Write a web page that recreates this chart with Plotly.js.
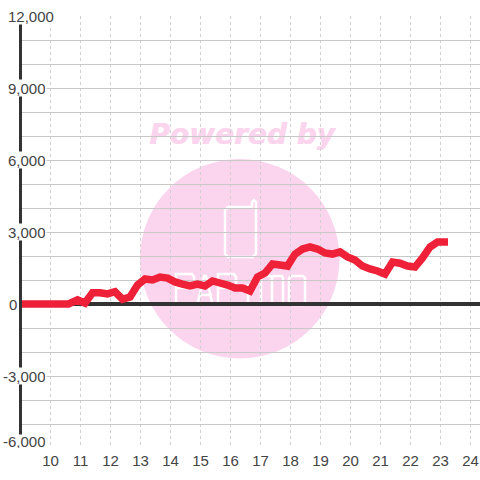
<!DOCTYPE html>
<html><head><meta charset="utf-8">
<script src="https://cdn.plot.ly/plotly-3.0.0.min.js"></script>
<style>html,body{margin:0;padding:0;background:#fff}#c{width:480px;height:480px}</style>
</head><body><div id="c"></div>
<script>
var hours = [8.9,9.15,9.4,9.65,9.9,10.15,10.4,10.6,10.9,11.15,11.4,11.65,11.9,12.15,12.4,12.65,12.9,13.15,13.4,13.65,13.9,14.15,14.4,14.65,14.9,15.15,15.4,15.65,15.9,16.15,16.4,16.65,16.9,17.15,17.4,17.65,17.9,18.15,18.4,18.65,18.9,19.15,19.4,19.65,19.9,20.15,20.4,20.65,20.9,21.15,21.4,21.65,21.9,22.15,22.4,22.65,22.9,23.25];
var diff = [0,0,0,0,0,0,0,0,170,40,470,470,420,510,200,290,790,1040,1000,1125,1080,920,830,750,830,750,960,875,790,670,670,540,1125,1290,1670,1625,1580,2080,2290,2375,2290,2125,2080,2170,1960,1830,1580,1460,1375,1250,1750,1700,1580,1540,1920,2375,2580,2580];
var xTicks = [10,11,12,13,14,15,16,17,18,19,20,21,22,23,24];
var yLabelValues = [12000,9000,6000,3000,0,-3000,-6000];
var yLabelTexts = ['12,000','9,000','6,000','3,000','0','-3,000','-6,000'];
var yLabelShiftX = [-15.5,-15.5,-15.5,-15.5,-14,-20,-20];
var yLabelShiftY = [0.5,0.5,0.5,0.5,0.5,0.5,6.5];
var yLabelHeights = [16,16,16,16,16,16,13];
var FONT = '"Liberation Sans", Arial, sans-serif';
var PINK = '#fbd5ee';

function px(x){ return 10 + (x - 50.5) / 30; }
function py(y){ return (304 - y) / 24 * 1000; }
function toPath(points, close){
  return points.map(function(p, i){ return (i ? 'L' : 'M') + px(p[0]) + ',' + py(p[1]); }).join(' ') + (close ? ' Z' : '');
}
function outline(points, close){
  return {type:'path', layer:'below', xref:'x', yref:'y', path:toPath(points, close), line:{color:'#fff', width:2.5}};
}
var shapes = [
  {type:'circle', layer:'below', xref:'x', yref:'y', x0:px(140), x1:px(339.5), y0:py(358.5), y1:py(159), fillcolor:PINK, line:{width:0}},
  {type:'rect', layer:'below', xref:'x', yref:'y', x0:px(142), x1:px(342), y0:py(148), y1:py(116), line:{width:0}, fillcolor:'rgba(0,0,0,0)',
   label:{text:'Powered by', textposition:'middle center', font:{family:'"DejaVu Sans"', size:28, color:PINK, weight:700, style:'italic', shadow:'0.6px 0 0 #fbd5ee'}}},
  outline([[228,207],[252,207],[252,202],[254,200],[256,202],[256,254],[253,257],[228,257],[225,254],[225,210]], true),
  outline([[176,306],[176,274],[192,274],[194,277],[194,285],[192,288],[176,288]], false),
  outline([[197,306],[204,276],[206,276],[213,306]], false),
  outline([[199,295],[212,295]], false),
  outline([[218,306],[218,274],[234,274],[236,277],[236,285],[234,288],[218,288]], false),
  outline([[248,306],[248,284]], false),
  outline([[261,306],[261,276],[271,276],[272,278],[272,306]], false),
  outline([[272,278],[273,276],[282,276],[283,278],[283,306]], false),
  outline([[289,278],[291,276],[303,276],[305,278],[305,303],[303,305],[291,305],[289,303]], true)
];
var annotations = yLabelValues.map(function(v, i){
  return {xref:'paper', yref:'y', x:0, y:v, text:yLabelTexts[i], showarrow:false, xanchor:'left', yanchor:'middle',
    xshift:yLabelShiftX[i], yshift:yLabelShiftY[i], height:yLabelHeights[i], valign:'middle', bgcolor:'#fff', borderpad:0, align:'left',
    font:{family:FONT, size:15, color:'#444'}};
});
Plotly.newPlot('c', [{
  type:'scatter', mode:'lines', x:hours, y:diff, cliponaxis:false,
  line:{color:'#ee2138', width:7.5, shape:'linear', simplify:false}, hoverinfo:'skip'
}], {
  width:480, height:480, showlegend:false,
  margin:{l:22, r:0, t:16, b:32, pad:0},
  paper_bgcolor:'#fff', plot_bgcolor:'#fff',
  xaxis:{range:[px(22), px(480)], tickmode:'array', tickvals:xTicks, ticktext:xTicks.map(String), ticklen:0, ticklabelstandoff:2,
    showgrid:true, gridcolor:'#d0d0d0', gridwidth:1, griddash:'3px,3px', zeroline:false, showline:false,
    tickfont:{family:FONT, size:15, color:'#444'}, fixedrange:true},
  yaxis:{range:[-6000,12000], dtick:1000, tick0:0, showticklabels:false, ticklen:0,
    showgrid:true, gridcolor:'#c8c8c8', gridwidth:1, zeroline:true, zerolinecolor:'#333', zerolinewidth:3.5,
    showline:true, linecolor:'#333', linewidth:3, fixedrange:true},
  shapes:shapes, annotations:annotations
}, {displayModeBar:false, staticPlot:true});
</script></body></html>
